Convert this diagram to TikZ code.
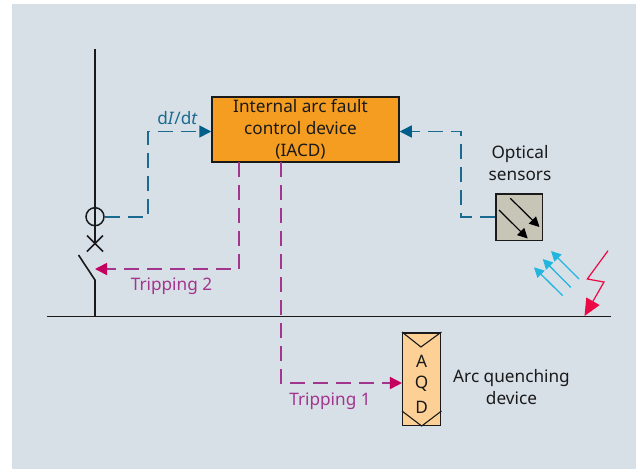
\documentclass[tikz,border=0pt]{standalone}
\usepackage{fontspec}
\setmainfont{Noto Sans}
\usetikzlibrary{arrows.meta,calc}
\definecolor{panel}{HTML}{D7DFE7}
\definecolor{teal}{HTML}{1B6A8F}
\definecolor{tealtip}{HTML}{005F8A}
\definecolor{purp}{HTML}{A2358D}
\definecolor{crim}{HTML}{C4005F}
\definecolor{iacd}{HTML}{F59D20}
\definecolor{aqd}{HTML}{FDD095}
\definecolor{sens}{HTML}{C6C5B6}
\definecolor{skyb}{HTML}{22B5DE}
\definecolor{redb}{HTML}{EC0A44}
\definecolor{ink}{HTML}{1A1A1A}
\tikzset{
  txt/.style={font=\fontsize{17.2}{22}\selectfont,text=ink,align=center,inner sep=0pt},
  boxx/.style={draw=ink,line width=1.5pt,inner sep=0pt,minimum width=#1},
  tealline/.style={draw=teal,line width=1.6pt,dash pattern=on 15pt off 8pt,-{Triangle[length=12pt,width=12pt,color=tealtip]}},
  purpline/.style={draw=purp,line width=1.6pt,dash pattern=on 15pt off 8pt,-{Triangle[length=12pt,width=12pt,color=crim]}},
  bus/.style={draw=ink,line width=1.6pt},
  skyarrow/.style={draw=skyb,line width=1.3pt,-{Triangle[length=10pt,width=10pt]}},
  blackarrow/.style={draw=black,line width=1.2pt,-{Triangle[length=10pt,width=10pt]}},
  plabel/.style={font=\fontsize{17.2}{20}\selectfont,text=purp,inner sep=0pt},
}
\begin{document}
\begin{tikzpicture}[x=1pt,y=-1pt]
\useasboundingbox (0,0) rectangle (636,469);
\fill[panel] (12,4) rectangle (636,469);
% main line
\coordinate (top) at (95,49);
\coordinate (crossc) at (95,243.5);
\coordinate (swt) at (95,280);
\coordinate (swo) at (78.5,255);
\coordinate (busL) at (47,316.5);
\coordinate (busR) at (611,316.5);
\coordinate (busj) at (95,316.5);
\draw[bus] (busL) -- (busR);
\draw[bus] (top) -- (crossc);
\draw[bus] (swo) -- (swt) -- (busj);
\draw[bus] ($(crossc)+(-8,-8)$) -- ($(crossc)+(8,8)$);
\draw[bus] ($(crossc)+(8,-8)$) -- ($(crossc)+(-8,8)$);
\node[circle,draw=ink,line width=1.5pt,minimum size=18pt,inner sep=0pt] (ct) at (95,216.7) {};
% IACD
\node[boxx=187pt,fill=iacd,minimum height=65pt] (iacdbox) at (305.5,129.5) {};
\node[txt] (iacdtxt) at (300.5,129.5) {Internal arc fault\\control device\\(IACD)};
% sensor
\node[boxx=46.5pt,fill=sens,minimum height=46.5pt] (sensor) at (519,217) {};
\coordinate (sa1) at (510.3,198.3); \coordinate (sb1) at (539.5,227);
\coordinate (sa2) at (499,210); \coordinate (sb2) at (527.7,238.5);
\draw[blackarrow] (sa1) -- (sb1);
\draw[blackarrow] (sa2) -- (sb2);
\node[txt] (opt) at (520,163) {Optical\\sensors};
% AQD
\node[boxx=38pt,fill=aqd,minimum height=92.5pt] (aqdbox) at (421.7,379) {};
\draw[draw=ink,line width=1.1pt] (aqdbox.north west) -- ++(19,15) -- (aqdbox.north east);
\draw[draw=ink,line width=1.1pt] ($(aqdbox.south west)+(0,-15)$) -- (aqdbox.south) -- ($(aqdbox.south east)+(0,-15)$);
\node[txt] (la) at (421.7,361.5) {A};
\node[txt] (lq) at (421.7,384) {Q};
\node[txt] (ld) at (421.7,407) {D};
\node[txt] (arc) at (511.5,387) {Arc quenching\\device};
% teal connectors
\coordinate (t1) at (148,216.7);
\coordinate (t2) at (148,131.5);
\draw[tealline] (ct.east) -- (t1) -- (t2) -- (t2 -| iacdbox.west);
\coordinate (r1) at (461,217);
\coordinate (r2) at (461,131.5);
\draw[tealline] (sensor.west) -- (r1) -- (r2) -- (r2 -| iacdbox.east);
\node[font=\fontsize{17.2}{20}\selectfont,text=teal,inner sep=0pt] (didt) at (177.5,118) {d\textit{I}/d\textit{t}};
% purple connectors
\coordinate (p1s) at (239,162);
\coordinate (p1) at (239,269);
\coordinate (p1e) at (95,269);
\draw[purpline] (p1s) -- (p1) -- (p1e);
\coordinate (p2s) at (281,162);
\coordinate (p2) at (281,383);
\draw[purpline] (p2s) -- (p2) -- (p2 -| aqdbox.west);
\node[plabel] (trip2) at (171.5,286) {Tripping 2};
\node[plabel] (trip1) at (330,401) {Tripping 1};
% light
\coordinate (b1a) at (579,279); \coordinate (b1b) at (551,251);
\coordinate (b2a) at (570.7,287.3); \coordinate (b2b) at (542.7,259);
\coordinate (b3a) at (562.7,295.7); \coordinate (b3b) at (534,267.3);
\draw[skyarrow] (b1a) -- (b1b);
\draw[skyarrow] (b2a) -- (b2b);
\draw[skyarrow] (b3a) -- (b3b);
% lightning
\coordinate (l1) at (608,250.7); \coordinate (l2) at (587.3,279);
\coordinate (l3) at (604,282); \coordinate (l4) at (584.5,316);
\draw[draw=redb,line width=1.2pt,-{Triangle[length=17pt,width=15pt]}] (l1) -- (l2) -- (l3) -- (l4);
\end{tikzpicture}
\end{document}
